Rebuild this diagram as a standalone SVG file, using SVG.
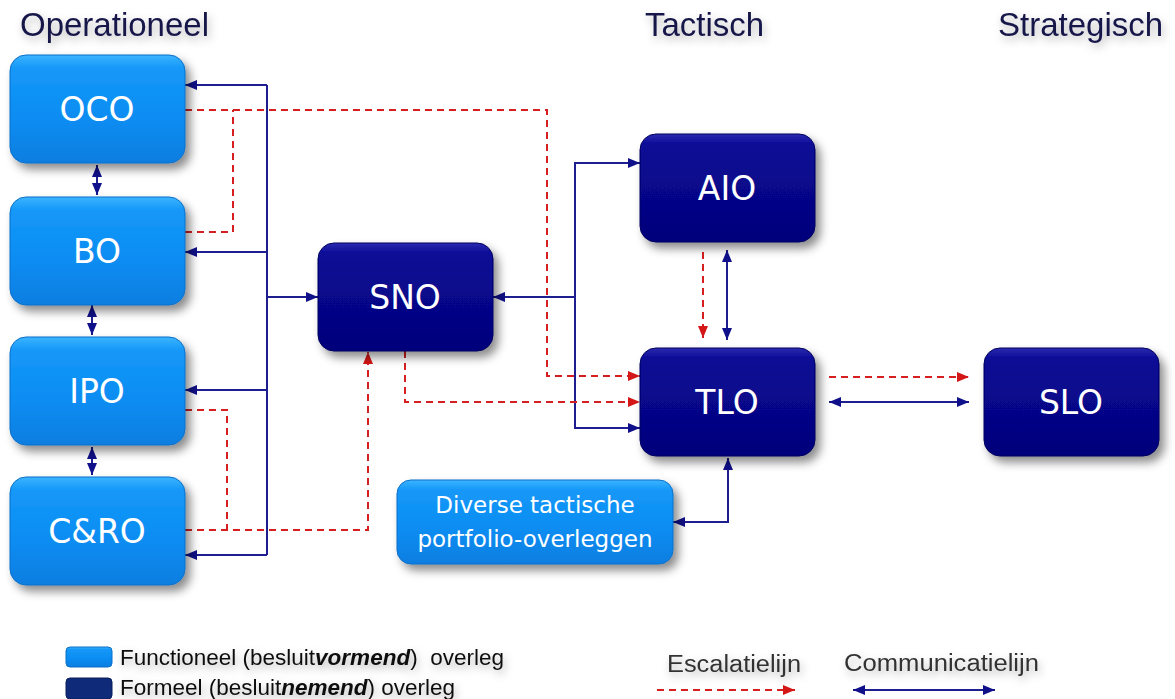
<svg xmlns="http://www.w3.org/2000/svg" width="1175" height="699" viewBox="0 0 1175 699">
<defs>
<linearGradient id="gLight" x1="0" y1="0" x2="0" y2="1">
<stop offset="0" stop-color="#3cb4ff"/>
<stop offset="0.12" stop-color="#1598f8"/>
<stop offset="0.6" stop-color="#0a8cf2"/>
<stop offset="1" stop-color="#0a7ee0"/>
</linearGradient>
<linearGradient id="gDark" x1="0" y1="0" x2="0" y2="1">
<stop offset="0" stop-color="#2a2ab0"/>
<stop offset="0.1" stop-color="#0a0a96"/>
<stop offset="0.6" stop-color="#060688"/>
<stop offset="1" stop-color="#04047a"/>
</linearGradient>
<filter id="sh" x="-20%" y="-20%" width="150%" height="160%">
<feDropShadow dx="5" dy="6" stdDeviation="5" flood-color="#000" flood-opacity="0.45"/>
</filter>
<filter id="tsh" x="-10%" y="-30%" width="130%" height="190%">
<feDropShadow dx="2" dy="4" stdDeviation="4" flood-color="#000" flood-opacity="0.3"/>
</filter>
<marker id="ab" viewBox="0 0 12 10" markerWidth="12" markerHeight="10" refX="12" refY="5" orient="auto-start-reverse" markerUnits="userSpaceOnUse">
<path d="M0,0 L12,5 L0,10 z" fill="#10108a"/>
</marker>
<marker id="ar" viewBox="0 0 12 10" markerWidth="12" markerHeight="10" refX="12" refY="5" orient="auto" markerUnits="userSpaceOnUse">
<path d="M0,0 L12,5 L0,10 z" fill="#d41616"/>
</marker>
</defs>
<style>
.light{fill:url(#gLight);stroke:#0b6fc8;stroke-width:1;filter:url(#sh)}
.dark{fill:url(#gDark);stroke:#03035e;stroke-width:1;filter:url(#sh)}
.nt{font-family:"DejaVu Sans",Verdana,sans-serif;font-size:33px;fill:#fff;text-anchor:middle}
.nt2{font-family:"DejaVu Sans",Verdana,sans-serif;font-size:23px;fill:#fff;text-anchor:middle}
.title{font-family:"Liberation Sans",Arial,sans-serif;font-size:33px;fill:#16164a;filter:url(#tsh)}
.leg{font-family:"Liberation Sans",Arial,sans-serif;font-size:22.5px;fill:#111;filter:url(#tsh)}
.leg2{font-family:"Liberation Sans",Arial,sans-serif;font-size:23px;fill:#333;filter:url(#tsh)}
.blue{fill:none;stroke:#1e1e90;stroke-width:2}
.red{fill:none;stroke:#d42020;stroke-width:2;stroke-dasharray:7,5}
</style>
<rect width="1175" height="699" fill="#fff"/>

<g id="titles">
<text class="title" x="20" y="36">Operationeel</text>
<text class="title" x="645" y="36">Tactisch</text>
<text class="title" x="998" y="36">Strategisch</text>
</g>

<g id="connectors">
<path class="blue" d="M267,85 V555"/>
<path class="blue" d="M267,85 H185" marker-end="url(#ab)"/>
<path class="blue" d="M267,252 H185" marker-end="url(#ab)"/>
<path class="blue" d="M267,390 H185" marker-end="url(#ab)"/>
<path class="blue" d="M267,555 H185" marker-end="url(#ab)"/>
<path class="blue" d="M267,297 H318" marker-end="url(#ab)"/>
<path class="blue" d="M97,165 V195" marker-start="url(#ab)" marker-end="url(#ab)"/>
<path class="blue" d="M92,305 V335" marker-start="url(#ab)" marker-end="url(#ab)"/>
<path class="blue" d="M92,447 V475" marker-start="url(#ab)" marker-end="url(#ab)"/>
<path class="blue" d="M575,297 H493" marker-end="url(#ab)"/>
<path class="blue" d="M640,163 H575 V428 H640" marker-start="url(#ab)" marker-end="url(#ab)"/>
<path class="blue" d="M727,250 V340" marker-start="url(#ab)" marker-end="url(#ab)"/>
<path class="blue" d="M829,402 H969" marker-start="url(#ab)" marker-end="url(#ab)"/>
<path class="blue" d="M728,458 V522 H673" marker-start="url(#ab)" marker-end="url(#ab)"/>

<path class="red" d="M185,110 H547 V376 H640" marker-end="url(#ar)"/>
<path class="red" d="M185,232 H233 V110"/>
<path class="red" d="M185,410 H227 V530"/>
<path class="red" d="M185,530 H368 V352" marker-end="url(#ar)"/>
<path class="red" d="M405,351 V402 H640" marker-end="url(#ar)"/>
<path class="red" d="M703,252 V338" marker-end="url(#ar)"/>
<path class="red" d="M829,377 H969" marker-end="url(#ar)"/>
</g>

<g id="OCO"><rect class="light" x="10" y="55" width="175" height="108" rx="16"/><text class="nt" x="97" y="121">OCO</text></g>
<g id="BO"><rect class="light" x="10" y="197" width="175" height="108" rx="16"/><text class="nt" x="97" y="263">BO</text></g>
<g id="IPO"><rect class="light" x="10" y="337" width="175" height="108" rx="16"/><text class="nt" x="97" y="403">IPO</text></g>
<g id="CRO"><rect class="light" x="10" y="477" width="175" height="108" rx="16"/><text class="nt" x="97" y="543">C&amp;RO</text></g>
<g id="SNO"><rect class="dark" x="318" y="243" width="175" height="108" rx="16"/><text class="nt" x="405" y="309">SNO</text></g>
<g id="AIO"><rect class="dark" x="640" y="134" width="175" height="108" rx="16"/><text class="nt" x="727" y="200">AIO</text></g>
<g id="TLO"><rect class="dark" x="640" y="348" width="175" height="108" rx="16"/><text class="nt" x="727" y="414">TLO</text></g>
<g id="SLO"><rect class="dark" x="984" y="348" width="175" height="108" rx="16"/><text class="nt" x="1071" y="414">SLO</text></g>
<g id="Diverse"><rect class="light" x="397" y="480" width="276" height="84" rx="14"/><text class="nt2" x="535" y="513">Diverse tactische</text><text class="nt2" x="535" y="547">portfolio-overleggen</text></g>

<g id="legend">
<rect class="light" x="66" y="647" width="46" height="20" rx="4" style="filter:none"/>
<rect x="66" y="678" width="46" height="21" rx="4" fill="#0e2a78" stroke="#081c5c"/>
<text class="leg" x="120" y="665">Functioneel (besluit<tspan font-weight="bold" font-style="italic">vormend</tspan>)&#160; overleg</text>
<text class="leg" x="120" y="695">Formeel (besluit<tspan font-weight="bold" font-style="italic">nemend</tspan>) overleg</text>
<text class="leg2" x="667" y="672" textLength="134" lengthAdjust="spacingAndGlyphs">Escalatielijn</text>
<text class="leg2" x="844" y="671" textLength="195" lengthAdjust="spacingAndGlyphs">Communicatielijn</text>
<path class="red" d="M657,690 H795" marker-end="url(#ar)"/>
<path class="blue" d="M853,690 H995" marker-start="url(#ab)" marker-end="url(#ab)"/>
</g>
</svg>
